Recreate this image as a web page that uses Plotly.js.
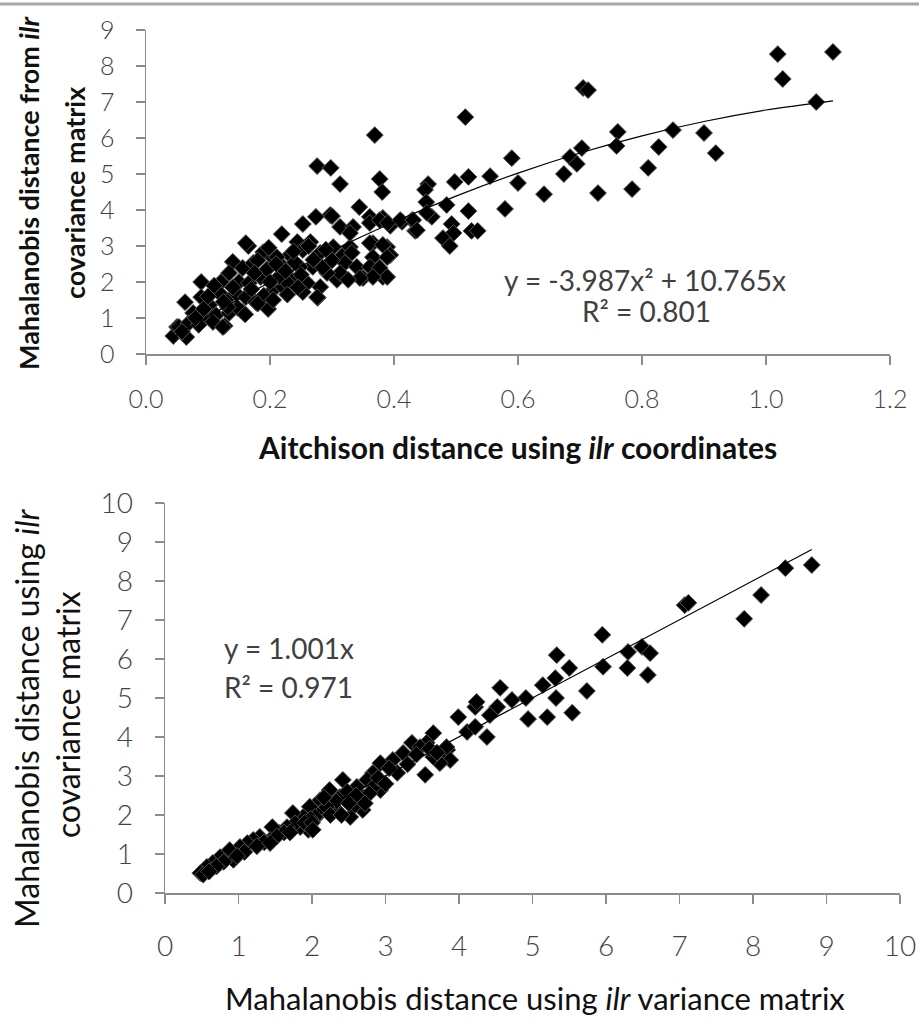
<!DOCTYPE html>
<html>
<head>
<meta charset="utf-8">
<script src="https://cdn.plot.ly/plotly-3.0.1.min.js"></script>
<style>html,body{margin:0;padding:0;background:#fff;}#chart{width:919px;height:1024px;}</style>
</head>
<body>
<div id="chart"></div>
<script>
// ---- Top chart: Aitchison distance (x) vs Mahalanobis distance from ilr covariance (y)
const topX = [
1.019,1.108,1.027,1.081,0.705,0.713,0.515,0.761,0.759,0.850,0.900,0.919,0.827,0.810,0.784,0.729,
0.703,0.684,0.695,0.674,0.642,0.590,0.600,0.579,0.555,0.520,0.498,0.455,0.450,0.452,0.485,0.461,
0.520,0.434,0.493,0.496,0.479,0.490,0.525,0.535,0.429,0.413,0.369,0.276,0.298,0.313,0.377,0.381,
0.344,0.382,0.361,0.297,0.274,0.253,0.313,0.334,0.394,0.219,0.165,0.089,0.063,0.044,0.065,0.050,
0.277,0.308,0.382,0.369,0.389,0.366,0.394,0.350,0.318,0.329,0.197,0.127,0.156,
0.161,0.189,0.205,0.140,0.156,0.173,0.134,0.121,0.150,0.166,0.185,0.205,0.089,0.102,0.129,0.145,
0.161,0.177,0.076,0.094,0.113,0.134,0.148,0.053,0.069,0.085,0.108,0.124,
0.300,0.361,0.377,0.390,0.410,0.431,0.437,0.453,0.265,0.329,0.302,0.244,0.253,0.281,0.232,0.361,
0.382,0.366,0.389,0.332,0.321,0.340,0.313,0.361,0.377,0.389,0.366,0.345,0.326,0.292,0.269,0.248,
0.221,0.211,0.281,0.260,0.235,0.276,0.253,0.221,
0.180,0.195,0.215,0.170,0.190,0.230,0.250,0.270,0.290,0.262,0.240,0.118,0.110,0.100,0.132,0.160,
0.180,0.200,0.210,0.225,0.238,0.198,0.175,0.140,0.125,0.228,0.245,0.285,0.300,0.205,0.093,0.080,0.058
];
const topY = [
8.33,8.39,7.64,7.00,7.39,7.33,6.58,6.17,5.78,6.22,6.14,5.58,5.75,5.17,4.58,4.47,
5.72,5.47,5.28,5.00,4.44,5.44,4.75,4.03,4.94,4.92,4.78,4.72,4.56,4.22,4.14,3.81,
3.97,3.42,3.61,3.36,3.22,3.00,3.42,3.42,3.72,3.67,6.08,5.22,5.17,4.72,4.86,4.50,
4.08,3.78,3.81,3.86,3.81,3.61,3.53,3.53,3.56,3.33,3.00,2.00,1.44,0.50,0.47,0.75,
1.56,2.06,2.14,2.53,2.97,3.08,2.75,2.11,2.75,2.97,1.25,0.78,1.17,
3.08,2.83,2.67,2.56,2.39,2.53,2.25,2.00,2.00,1.97,2.14,1.78,1.58,1.36,1.50,1.69,
1.58,1.44,1.14,1.03,1.08,1.14,1.28,0.75,0.86,0.81,0.89,0.75,
3.83,3.64,3.72,3.64,3.72,3.72,3.44,3.92,3.11,3.36,2.97,3.11,2.89,2.81,2.75,3.08,
3.03,2.69,2.69,2.81,2.53,2.42,2.25,2.42,2.39,2.14,2.14,2.11,2.06,2.25,2.42,2.42,
2.42,2.69,1.86,1.97,2.06,1.58,1.72,1.86,
2.60,2.35,2.15,1.80,1.62,1.95,2.20,2.62,2.90,3.00,2.55,1.70,1.90,1.60,1.30,1.10,
1.40,2.00,2.50,2.30,2.85,2.95,2.25,1.85,1.45,1.65,1.85,2.40,2.60,1.50,1.25,1.00,0.62
];
// Fitted polynomial trendline shown on the chart: y = -3.987x^2 + 10.765x
const topFitA = -3.987, topFitB = 10.765;
const topFitX = [0.044,0.1,0.2,0.3,0.4,0.5,0.6,0.7,0.8,0.9,1.0,1.108];
const topEq = ["y = -3.987x² + 10.765x", "R² = 0.801"];

// ---- Bottom chart: Mahalanobis (variance) x vs Mahalanobis (covariance) y
const botX = [
8.80,8.44,8.11,7.88,7.07,7.12,5.95,5.96,6.30,6.49,6.60,6.29,6.57,5.33,5.50,5.74,5.31,5.14,5.32,5.54,
5.20,4.94,4.91,4.72,4.56,4.52,4.42,4.22,4.24,3.99,4.11,4.22,4.38,3.84,3.78,3.65,3.56,3.83,3.88,3.74,
3.54,3.65,3.24,3.16,3.36,3.47,3.10,2.93,2.83,2.93,2.75,2.69,2.61,2.69,2.56,2.52,2.42,2.38,2.24,2.29,
2.11,2.11,1.97,2.04,1.88,1.95,1.84,1.74,1.77,1.66,1.56,1.46,1.43,1.29,1.20,1.12,1.02,0.93,0.88,0.75,
0.65,0.57,0.48,0.52,
2.85,2.78,2.48,2.33,2.20,2.16,1.98,1.90,1.62,1.52,1.35,1.25,1.08,0.98,0.80,0.70,0.60,2.60,2.90,3.00,
3.05,2.72,2.50,3.30,3.42,3.60,3.70,1.70,2.00,2.25,2.01,2.40,1.43
];
const botY = [
8.41,8.33,7.64,7.03,7.38,7.44,6.62,5.80,6.18,6.31,6.15,5.77,5.59,6.10,5.77,5.18,5.51,5.33,5.00,4.62,
4.51,4.46,5.00,4.95,5.26,4.77,4.56,4.77,4.90,4.51,4.13,4.26,4.00,3.67,3.46,4.10,3.85,3.74,3.41,3.33,
3.03,3.49,3.59,3.08,3.85,3.74,3.41,3.33,3.08,2.64,2.90,2.46,2.72,2.13,2.21,1.95,2.90,2.46,2.64,2.21,
2.38,2.05,2.21,1.95,1.95,1.62,1.69,2.05,1.79,1.69,1.54,1.69,1.36,1.44,1.36,1.28,1.18,0.85,1.10,0.92,
0.77,0.67,0.51,0.47,
2.75,2.55,2.60,2.35,2.20,2.45,1.90,1.80,1.55,1.45,1.30,1.20,1.05,0.95,0.80,0.68,0.55,2.50,2.95,2.80,
3.20,2.30,2.30,3.30,3.55,3.70,3.60,1.55,1.80,2.00,1.62,2.00,1.28
];
// Linear trendline shown on the chart: y = 1.001x
const botFitB = 1.001;
const botFitX = [0.48,8.8];
const botEq = ["y = 1.001x", "R² = 0.971"];

const xTicksTop = [0,0.2,0.4,0.6,0.8,1.0,1.2];
const yTicksTop = [0,1,2,3,4,5,6,7,8,9];
const xTicksBot = [0,1,2,3,4,5,6,7,8,9,10];
const yTicksBot = [0,1,2,3,4,5,6,7,8,9,10];

const W = 919, H = 1024;
const px = v => v / W, py = v => 1 - v / H;
const FF = 'Lato, Carlito, "Open Sans", sans-serif';

const mk = {symbol:'diamond', size:13, color:'#000', line:{color:'#555', width:1}};
const tickFontTop = {family:FF, size:25, color:'#444', weight:300};
const tickFontBot = {family:FF, size:28, color:'#444', weight:300};

const traces = [
  {x: topX, y: topY, type:'scatter', mode:'markers', marker: mk, xaxis:'x', yaxis:'y'},
  {x: topFitX, y: topFitX.map(x => topFitA*x*x + topFitB*x), type:'scatter', mode:'lines', line:{color:'#000', width:1.2, shape:'spline'}, xaxis:'x', yaxis:'y'},
  {x: botX, y: botY, type:'scatter', mode:'markers', marker: mk, xaxis:'x2', yaxis:'y2'},
  {x: botFitX, y: botFitX.map(x => botFitB*x), type:'scatter', mode:'lines', line:{color:'#000', width:1.2}, xaxis:'x2', yaxis:'y2'}
];

const axCommon = {showgrid:false, zeroline:false, showline:true, linecolor:'#8c8c8c', linewidth:1.5,
  ticks:'outside', ticklen:9, tickwidth:1.5, tickcolor:'#8c8c8c', fixedrange:true};

const layout = {
  width: W, height: H, margin:{l:0,r:0,t:0,b:0}, showlegend:false,
  paper_bgcolor:'#fff', plot_bgcolor:'#fff',
  xaxis: Object.assign({}, axCommon, {domain:[px(146), px(890)], range:[0,1.2], tickvals:xTicksTop,
    ticktext: xTicksTop.map(v => v.toFixed(1)), tickfont: tickFontTop, anchor:'y', ticklabelstandoff:13}),
  yaxis: Object.assign({}, axCommon, {domain:[py(354), py(30)], range:[0,9], tickvals:yTicksTop, tickfont: tickFontTop, anchor:'x', ticklabelstandoff:16}),
  xaxis2: Object.assign({}, axCommon, {domain:[px(165), px(900)], range:[0,10], tickvals:xTicksBot, tickfont: tickFontBot, anchor:'y2', ticklabelstandoff:19}),
  yaxis2: Object.assign({}, axCommon, {domain:[py(893), py(503)], range:[0,10], tickvals:yTicksBot, tickfont: tickFontBot, anchor:'x2', ticklabelstandoff:16}),
  shapes: [
    {type:'line', xref:'paper', yref:'paper', x0:0, x1:1, y0:py(4), y1:py(4), line:{color:'#a8a8a8', width:3}}
  ],
  annotations: [
    {xref:'paper', yref:'paper', x:px(517), y:py(447), text:'<b>Aitchison distance using <i>ilr</i> coordinates</b>', showarrow:false,
      font:{family:FF, size:30, color:'#111'}, xanchor:'center', yanchor:'middle'},
    {xref:'paper', yref:'paper', x:px(28), y:py(193), text:'<b>Mahalanobis distance from <i>ilr</i></b>', showarrow:false, textangle:-90,
      font:{family:FF, size:27, color:'#111'}, xanchor:'center', yanchor:'middle'},
    {xref:'paper', yref:'paper', x:px(74), y:py(193), text:'<b>covariance matrix</b>', showarrow:false, textangle:-90,
      font:{family:FF, size:27, color:'#111'}, xanchor:'center', yanchor:'middle'},
    {xref:'paper', yref:'paper', x:px(535), y:py(998), text:'Mahalanobis distance using <i>ilr</i> variance matrix', showarrow:false,
      font:{family:FF, size:31, color:'#111'}, xanchor:'center', yanchor:'middle'},
    {xref:'paper', yref:'paper', x:px(26), y:py(719), text:'Mahalanobis distance using <i>ilr</i>', showarrow:false, textangle:-90,
      font:{family:FF, size:32, color:'#111'}, xanchor:'center', yanchor:'middle'},
    {xref:'paper', yref:'paper', x:px(67), y:py(715), text:'covariance matrix', showarrow:false, textangle:-90,
      font:{family:FF, size:32, color:'#111'}, xanchor:'center', yanchor:'middle'},
    {xref:'x', yref:'y', x:(645-146)/620, y:(354-280)/36, text:topEq[0], showarrow:false,
      font:{family:FF, size:28, color:'#404040'}, xanchor:'center', yanchor:'middle'},
    {xref:'x', yref:'y', x:(646-146)/620, y:(354-311)/36, text:topEq[1], showarrow:false,
      font:{family:FF, size:28, color:'#404040'}, xanchor:'center', yanchor:'middle'},
    {xref:'x2', yref:'y2', x:(222-165)/73.5, y:(893-648)/39, text:botEq[0], showarrow:false,
      font:{family:FF, size:28, color:'#404040'}, xanchor:'left', yanchor:'middle'},
    {xref:'x2', yref:'y2', x:(222-165)/73.5, y:(893-687)/39, text:botEq[1], showarrow:false,
      font:{family:FF, size:28, color:'#404040'}, xanchor:'left', yanchor:'middle'}
  ]
};

Plotly.newPlot('chart', traces, layout, {displayModeBar:false, staticPlot:true});
</script>
</body>
</html>
